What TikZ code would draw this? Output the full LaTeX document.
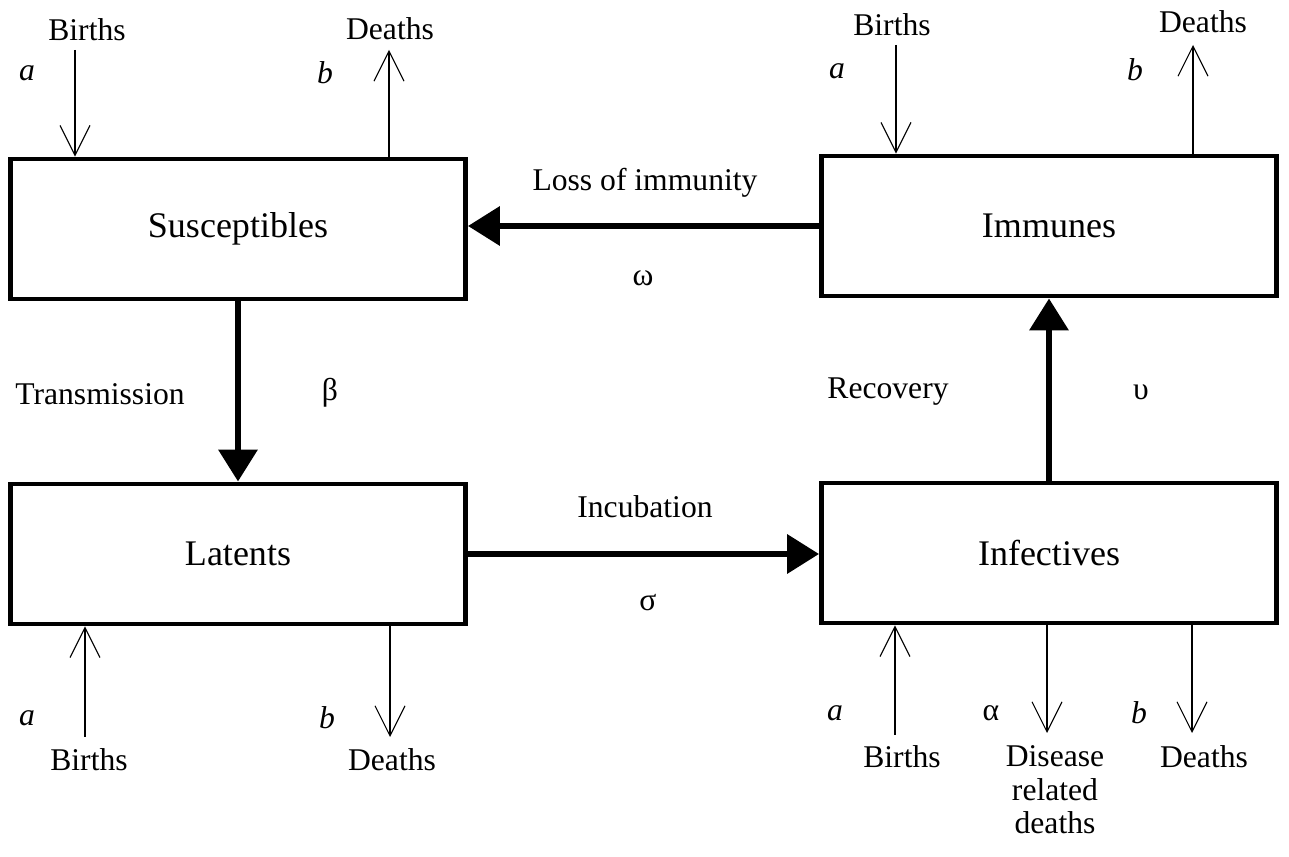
\documentclass[tikz,border=0pt]{standalone}
\usepackage{fontspec}
\setmainfont{Liberation Serif}
\usetikzlibrary{arrows.meta,positioning}
\begin{document}
\begin{tikzpicture}[x=0.02cm,y=-0.02cm,
  compartment/.style={draw,line width=2.8pt,minimum width=9.1cm,minimum height=2.8cm,
    font=\fontsize{20.5}{24}\selectfont},
  flow/.style={line width=0.6pt,-{Straight Barb[length=0.6cm,width=0.6cm]}},
  transfer/.style={line width=3.8pt,-{Triangle[length=0.64cm,width=0.76cm]}},
  lbl/.style={font=\fontsize{18}{21}\selectfont},
  rate/.style={font=\fontsize{18}{21}\selectfont\itshape},
  greek/.style={font=\fontsize{18}{21}\selectfont}]
\useasboundingbox (0,0) rectangle (1289,857);
% compartments
\node[compartment] (sus) at (238,229) {Susceptibles};
\node[compartment] (imm) at (1049,226) {Immunes};
\node[compartment] (lat) at (238,554) {Latents};
\node[compartment] (inf) at (1049,553) {Infectives};
% transfers between compartments
\draw[transfer] (imm.west) -- (imm.west -| sus.east);
\draw[transfer] (sus.south) -- (lat.north);
\draw[transfer] (lat.east) -- (lat.east -| inf.west);
\draw[transfer] (inf.north) -- (imm.south);
\node[lbl] (loss) at (645,183) {Loss of immunity};
\node[greek] (omega) at (643,278) {ω};
\node[lbl] (trans) at (100,394) {Transmission};
\node[greek] (beta) at (330,393) {β};
\node[lbl] (incub) at (645,507) {Incubation};
\node[greek] (sigma) at (648,603) {σ};
\node[lbl] (recov) at (888,392) {Recovery};
\node[greek] (upsilon) at (1141,392) {υ};
% susceptibles: births and deaths
\coordinate (sb) at (75,50);
\coordinate (sd) at (389,50);
\draw[flow] (sb) -- (sb |- sus.north);
\draw[flow] (sd |- sus.north) -- (sd);
\node[lbl] (sbl) at (87,30) {Births};
\node[rate] (sa) at (27,73) {a};
\node[lbl] (sdl) at (390,29) {Deaths};
\node[rate] (sbr) at (325,73) {b};
% immunes: births and deaths
\coordinate (ib) at (896,45);
\coordinate (id) at (1193,45);
\draw[flow] (ib) -- (ib |- imm.north);
\draw[flow] (id |- imm.north) -- (id);
\node[lbl] (ibl) at (892,25) {Births};
\node[rate] (ia) at (837,71) {a};
\node[lbl] (idl) at (1203,22) {Deaths};
\node[rate] (ibr) at (1135,70) {b};
% latents: births and deaths
\coordinate (lb) at (85,737);
\coordinate (ld) at (390,737);
\draw[flow] (lb) -- (lb |- lat.south);
\draw[flow] (ld |- lat.south) -- (ld);
\node[lbl] (lbl) at (89,760) {Births};
\node[rate] (la) at (27,718) {a};
\node[lbl] (ldl) at (392,760) {Deaths};
\node[rate] (lbr) at (327,718) {b};
% infectives: births, disease deaths, deaths
\coordinate (fb) at (895,735);
\coordinate (fx) at (1047,733);
\coordinate (fd) at (1192,733);
\draw[flow] (fb) -- (fb |- inf.south);
\draw[flow] (fx |- inf.south) -- (fx);
\draw[flow] (fd |- inf.south) -- (fd);
\node[lbl] (fbl) at (902,757) {Births};
\node[rate] (fa) at (835,713) {a};
\node[lbl,align=center] (fxl) at (1055,790) {Disease\\[-2pt]related\\[-2pt]deaths};
\node[greek] (alpha) at (991,713) {α};
\node[lbl] (fdl) at (1204,757) {Deaths};
\node[rate] (fbr) at (1139,713) {b};
\end{tikzpicture}
\end{document}
